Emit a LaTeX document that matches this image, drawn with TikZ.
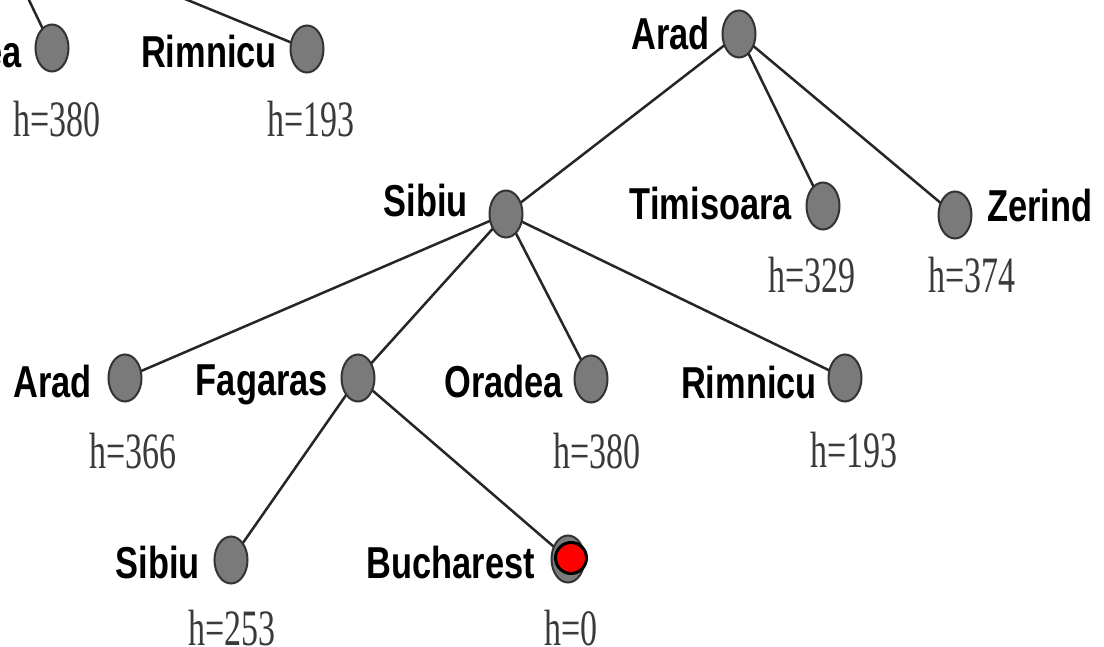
\documentclass[tikz,border=0pt]{standalone}
\usepackage{fontspec}
\usepackage{graphicx}
\usetikzlibrary{shapes.geometric,backgrounds}
\newfontfamily\labfont{Liberation Sans}
\newfontfamily\hvalfont{Liberation Serif}
\newcommand{\cityname}[1]{\scalebox{1}[1.3]{\labfont\bfseries #1}}
\newcommand{\hval}[1]{\scalebox{1}[1.5]{\hvalfont #1}}
\definecolor{nodegray}{HTML}{7A7A7A}
\definecolor{hgray}{HTML}{3A3A3A}
\tikzset{
  city/.style={ellipse, draw=black!80, line width=2pt, fill=nodegray,
    minimum width=33pt, minimum height=47pt, inner sep=0pt},
  goal/.style={circle, draw=black, line width=3pt, fill=red,
    minimum size=31pt, inner sep=0pt},
  namelab/.style={inner sep=0pt, anchor=base east, text=black,
    font=\fontsize{34.4}{40}\selectfont},
  hlab/.style={inner sep=0pt, anchor=base, text=hgray,
    font=\fontsize{34}{40}\selectfont},
  edge/.style={line width=2.5pt, draw=black!85},
}
\begin{document}
\begin{tikzpicture}[x=1pt,y=-1pt]
\useasboundingbox (0,0) rectangle (1104,647);
\clip (0,0) rectangle (1104,647);

% off-canvas parent of the top-left pair
\coordinate (psib) at (-10,-81);

% circles
\node[city] (orT) at (52,48) {};
\node[city] (riT) at (307,49) {};
\node[city] (arT) at (739,34) {};
\node[city] (sib) at (506,214) {};
\node[city] (tim) at (823,206) {};
\node[city] (zer) at (955,215) {};
\node[city] (arM) at (125,378) {};
\node[city] (fag) at (358,378) {};
\node[city] (orM) at (591,379) {};
\node[city] (riM) at (845,378) {};
\node[city] (sibB) at (231,560) {};
\node[city] (buc) at (568,559) {};
\node[goal] (bucgoal) at (571,558) {};

% connectors (behind circles)
\begin{pgfonlayer}{background}
\fill[white] (0,0) rectangle (1104,647);
\draw[edge] (psib) -- (orT.center);
\draw[edge] (psib) -- (riT.center);
\draw[edge] (arT.center) -- (sib.center);
\draw[edge] (arT.center) -- (tim.center);
\draw[edge] (arT.center) -- (zer.center);
\draw[edge] (sib.center) -- (arM.center);
\draw[edge] (sib.center) -- (fag.center);
\draw[edge] (sib.center) -- (orM.center);
\draw[edge] (sib.center) -- (riM.center);
\draw[edge] (fag.center) -- (sibB.center);
\draw[edge] (fag.center) -- (buc.center);
\end{pgfonlayer}

% city names
\node[namelab] (lorT) at (22,68) {\cityname{Oradea}};
\node[namelab] (lriT) at (277,68) {\cityname{Rimnicu}};
\node[namelab] (larT) at (710,50) {\cityname{Arad}};
\node[namelab] (lsib) at (468,217) {\cityname{Sibiu}};
\node[namelab] (ltim) at (792,220) {\cityname{Timisoara}};
\node[namelab, anchor=base west] (lzer) at (987,222) {\cityname{Zerind}};
\node[namelab] (larM) at (92,397) {\cityname{Arad}};
\node[namelab] (lfag) at (328,395) {\cityname{Fagaras}};
\node[namelab] (lorM) at (563,397) {\cityname{Oradea}};
\node[namelab] (lriM) at (817,398) {\cityname{Rimnicu}};
\node[namelab] (lsibB) at (200,578) {\cityname{Sibiu}};
\node[namelab] (lbuc) at (535,578) {\cityname{Bucharest}};

% heuristic values
\node[hlab] (horT) at (57,137) {\hval{h=380}};
\node[hlab] (hriT) at (311,137) {\hval{h=193}};
\node[hlab] (htim) at (812,293) {\hval{h=329}};
\node[hlab] (hzer) at (972,293) {\hval{h=374}};
\node[hlab] (harM) at (133,468) {\hval{h=366}};
\node[hlab] (horM) at (597,468) {\hval{h=380}};
\node[hlab] (hriM) at (854,467) {\hval{h=193}};
\node[hlab] (hsibB) at (232,645) {\hval{h=253}};
\node[hlab] (hbuc) at (571,645) {\hval{h=0}};
\end{tikzpicture}
\end{document}
